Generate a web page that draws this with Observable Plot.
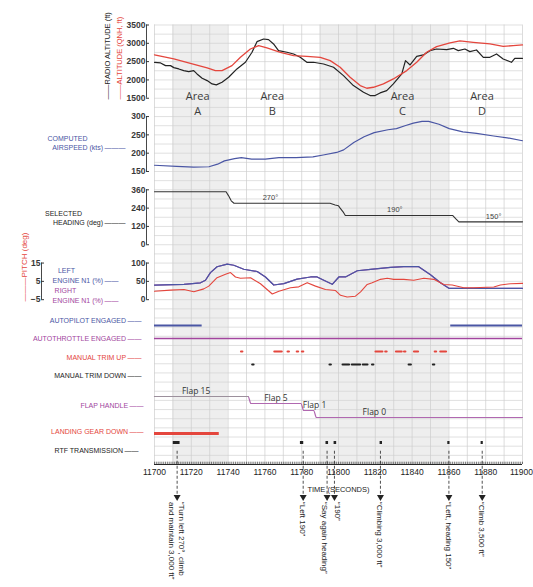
<!DOCTYPE html>
<html>
<head>
<meta charset="utf-8">
<script src="https://cdn.jsdelivr.net/npm/d3@7"></script>
<script src="https://cdn.jsdelivr.net/npm/@observablehq/plot@0.6"></script>
<style>
  body { margin: 0; background: #fff; }
  #chart { position: relative; width: 533px; height: 587px; overflow: hidden; }
</style>
</head>
<body>
<div id="chart"></div>
<script>
// ---------------- DATA ----------------
// Altitude (QNH, ft) – red
const qnhTime = [11700, 11710.5, 11719.5, 11728.6, 11733.1, 11736.7, 11742.1, 11746.7, 11752.1, 11756.6, 11761.1, 11768.4, 11775.6, 11782.8, 11790.1, 11795.5, 11800.9, 11806.3, 11811.8, 11815.4, 11819, 11824.4, 11829.8, 11837.1, 11842.5, 11847.9, 11853.3, 11860.6, 11866, 11873.2, 11882.3, 11889.5, 11894.9, 11900];
const qnhAlt  = [2682, 2573, 2455, 2327, 2255, 2255, 2390, 2618, 2845, 2936, 2873, 2755, 2664, 2645, 2618, 2527, 2345, 2073, 1845, 1773, 1800, 1891, 2027, 2255, 2482, 2755, 2909, 3009, 3064, 3027, 2982, 2918, 2936, 2955];
// Radio altitude (ft) – black
const radioTime = [11700, 11703.3, 11706, 11708.7, 11710.5, 11713.2, 11715.9, 11718.6, 11721.3, 11723.1, 11725.9, 11728.6, 11731.3, 11733.6, 11736.7, 11740.3, 11744.8, 11749.4, 11753, 11755.7, 11759.3, 11762, 11764.7, 11767.4, 11772, 11775.6, 11779.2, 11782.8, 11786.4, 11791.9, 11797.3, 11802.7, 11808.1, 11813.6, 11817.2, 11819.9, 11822.6, 11826.2, 11829.8, 11834.4, 11836.4, 11838.9, 11842.5, 11846.1, 11849.7, 11853.3, 11858.8, 11862.4, 11865.1, 11868.7, 11871.4, 11875, 11878.7, 11882.3, 11885.9, 11889.5, 11894, 11895.8, 11900];
const radioAlt  = [2482, 2464, 2391, 2391, 2336, 2300, 2255, 2227, 2255, 2164, 2045, 1982, 1891, 1864, 1936, 2073, 2300, 2482, 2755, 3045, 3118, 3100, 2982, 2800, 2755, 2709, 2618, 2482, 2482, 2436, 2345, 2118, 1845, 1664, 1573, 1573, 1645, 1709, 1891, 2164, 2527, 2409, 2645, 2682, 2800, 2845, 2827, 2864, 2800, 2845, 2773, 2818, 2618, 2618, 2709, 2573, 2482, 2591, 2591];
const areaNames = ["A", "B", "C", "D"];
const areaTime  = [11723.5, 11764, 11834.8, 11878];

// Computed airspeed (kts)
const iasTime = [11700, 11712, 11721.3, 11729.6, 11734.3, 11738, 11743.5, 11747.2, 11752.8, 11760.2, 11767.6, 11776.9, 11786.1, 11791.7, 11799, 11802.8, 11808.3, 11813.9, 11819.4, 11826.9, 11831.5, 11836.1, 11840.7, 11845.4, 11849, 11854.6, 11860.2, 11867.6, 11875, 11884.3, 11891.7, 11900];
const ias     = [167, 164, 162, 163, 170, 179, 185, 188, 184, 184, 188, 188, 190, 195, 202, 209, 229, 245, 256, 264, 267, 275, 282, 287, 287, 279, 267, 258, 254, 247, 242, 234];

// Selected heading (deg)
const hdgTime = [11700, 11738.9, 11740.2, 11741.7, 11743.2, 11795.4, 11798.2, 11800, 11800.9, 11802.8, 11803.7, 11862, 11863.8, 11865.4, 11900];
const hdg     = [347, 347, 322, 288, 272, 272, 261, 255, 240, 210, 192, 192, 169, 150, 150];
const hdgLabels = ["270°", "190°", "150°"];
const hdgLabelTime = [11763, 11830.6, 11884.3];
const hdgLabelValue = [272, 192, 150];

// Engine N1 (%)
const n1Time = [11700, 11716, 11725, 11727.7, 11730.4, 11734, 11739.5, 11743.1, 11748.5, 11755.8, 11760.3, 11764.8, 11770.3, 11777.5, 11784.8, 11788.4, 11792, 11796.6, 11800.2, 11803.8, 11810.2, 11817.4, 11828.3, 11835.5, 11843.6, 11850, 11855.4, 11860, 11879, 11900];
const leftN1  = [40, 42, 46, 53, 74, 90, 97, 94, 83, 77, 62, 40, 44, 56, 62, 62, 53, 42, 62, 62, 79, 83, 88, 90, 90, 68, 46, 31, 31, 31];
const rightN1 = [40, 42, 46, 53, 74, 90, 97, 94, 83, 77, 62, 40, 44, 56, 62, 62, 53, 42, 62, 62, 79, 83, 88, 90, 90, 68, 46, 31, 31, 31];

// Pitch (deg)
const pitchTime = [11700, 11708.7, 11716, 11721.4, 11726.8, 11729.5, 11734, 11738.6, 11741.3, 11744, 11746.7, 11752.2, 11757.6, 11764, 11767.6, 11773.9, 11778.4, 11783, 11787.5, 11792.9, 11798.4, 11801.1, 11804.7, 11809.2, 11812, 11815.6, 11818.3, 11822.8, 11826.5, 11830, 11835.5, 11840.9, 11846.4, 11851.8, 11857.2, 11861.8, 11868.1, 11873.5, 11884.4, 11888, 11893.5, 11900];
const pitch     = [-0.4, 0.2, 0.6, -0.7, 0.9, 2.4, 7, 8.9, 9.8, 7.4, 6.7, 7, 3.7, -1.9, -0.4, 1.5, 2, 4.3, 2.4, 0.6, 0, -2.6, -3.5, -3.1, -0.7, 3.3, 4.3, 6.1, 6.7, 6.1, 6.1, 5.6, 6.7, 6.1, 3.3, 3, 1.5, 1.5, 1.9, 3, 3.7, 3.9];

// Discrete parameters (start / end times)
const apStart = [11700, 11861], apEnd = [11725.9, 11900];
const atStart = [11700], atEnd = [11900];
const trimUpStart = [11747.3, 11765.4, 11772.6, 11777.6, 11780.4, 11820.4, 11825.7, 11831.5, 11835.9, 11841.3, 11852.6, 11855.6];
const trimUpEnd   = [11748.0, 11769.4, 11773.3, 11778.3, 11781.1, 11824.1, 11826.4, 11834.6, 11836.6, 11843.5, 11853.3, 11858.7];
const trimDownStart = [11753.4, 11795.4, 11802.5, 11807.5, 11813.5, 11818.5, 11838.4, 11851.6];
const trimDownEnd   = [11754.1, 11796.1, 11806.0, 11812.0, 11816.0, 11819.2, 11839.6, 11852.3];
const gearStart = [11700], gearEnd = [11735.2];
const rtfStart = [11710.2, 11779.3, 11793.2, 11797.6, 11822.6, 11859.4, 11877.5];
const rtfEnd   = [11713.9, 11781.1, 11794.6, 11799.0, 11823.9, 11860.6, 11878.7];

// Flap handle
const flapLevels = ["Flap 15", "Flap 5", "Flap 1", "Flap 0"];
const flapTime  = [11700, 11750.9, 11752.4, 11779.6, 11781.1, 11785.2, 11786.5, 11788, 11900];
const flapValue = ["Flap 15", "Flap 15", "Flap 5", "Flap 5", "Flap 1", "Flap 1", "Flap 1", "Flap 0", "Flap 0"];
const flapLabelTime = [11722.6, 11766, 11787, 11819.5];

// Shaded areas
const shadeStart = [11710, 11790], shadeEnd = [11740, 11860];

// X axis ticks
const xTicks = [11700, 11720, 11740, 11760, 11780, 11800, 11820, 11840, 11860, 11880, 11900];

// RTF transcript annotations
const annTime = [11712.3, 11780.8, 11793.8, 11797.8, 11822.8, 11860, 11878.1];
const annText = ["\u201CTurn left 270°, climb\nand maintain 3,000 ft\u201D", "\u201CLeft 190\u201D", "\u201CSay again heading\u201D", "\u201C190\u201D", "\u201CClimbing 3,000 ft\u201D", "\u201CLeft, heading 150\u201D", "\u201CClimb 3,500 ft\u201D"];

// ---------------- LAYOUT / STYLE ----------------
const X0 = 11700, X1 = 11900;
const G_TOP = 24.5, G_STEP = 9.156;
const py = i => G_TOP + i * G_STEP;
const FONT = "'Liberation Sans', Arial, Helvetica, sans-serif";
const RED = "#e4463d", BLUE = "#4a56a4", PURPLE = "#a2469e", BLACK = "#232323";
const chart = document.getElementById("chart");

const zip = (t, v) => t.map((d, i) => ({t: d, v: v[i]}));
const segs = (s, e, row) => s.map((d, i) => ({s: d, e: e[i], row}));

function add(opts) {
  const svg = Plot.plot({
    width: 533, height: 587,
    marginLeft: 154, marginRight: 11, marginTop: 0, marginBottom: 0,
    style: {background: "transparent", overflow: "visible", fontFamily: FONT, position: "absolute", left: "0px", top: "0px"},
    ...opts,
    x: {domain: [X0, X1], axis: null, ...(opts.x || {})}
  });
  chart.append(svg);
}

function yAxis(ticks, dx = -8) {
  return [
    Plot.axisY({ticks, tickSize: -3, tickPadding: 4, dx, fontSize: 8.5, fontWeight: "bold", color: "#383838", label: null,
      tickFormat: d => String(d).replace("-", "\u2212")}),
    Plot.ruleX([X0], {y1: ticks[0], y2: ticks[ticks.length - 1], dx, stroke: "#333", strokeWidth: 0.9})
  ];
}

// ---------- Background: shading, grid, x axis, annotations ----------
add({
  marginTop: py(0), marginBottom: 587 - py(48),
  y: {domain: [0, 48], range: [py(0), py(48)], axis: null},
  marks: [
    Plot.rect(shadeStart, {x1: d => d, x2: (d, i) => shadeEnd[i], fill: "#eeeeee"}),
    Plot.ruleY(d3.range(0, 49), {stroke: "#d3d3d3", strokeWidth: 0.7}),
    Plot.ruleX(d3.range(X0, X1 + 1, 10), {stroke: "#cdcdcd", strokeWidth: 0.7}),
    Plot.ruleY([48], {stroke: BLACK, strokeWidth: 1}),
    Plot.ruleX(d3.range(X0, X1 + 1, 1), {y1: 47.75, y2: 48, stroke: BLACK, strokeWidth: 0.6}),
    Plot.text(xTicks, {filter: d => d < X1, x: d => d, y: 48, dy: 8, text: d => String(d), fontSize: 8.5, fill: "#222"}),
    Plot.text(xTicks, {filter: d => d === X1, x: d => d, y: 48, dy: 8, dx: 10.5, textAnchor: "end", text: d => String(d), fontSize: 8.5, fill: "#222"}),
    Plot.link(annTime, {x1: d => d, x2: d => d, y1: 46.5, y2: 51.2, stroke: BLACK, strokeWidth: 0.8, strokeDasharray: "3,2"}),
    Plot.dot(annTime, {x: d => d, y: 51.55, symbol: "triangle", r: 2.6, fill: BLACK, stroke: "none", rotate: 180}),
    Plot.text(annTime, {filter: (d, i) => i !== 2 && i !== 3, x: d => d, y: 52.1, text: (d, i) => annText[i], rotate: 90, textAnchor: "start", lineAnchor: "middle", lineHeight: 1.3, fontSize: 8, fill: BLACK}),
    Plot.text(annTime, {filter: (d, i) => i === 2, x: d => d, y: 52.1, dx: -3, text: (d, i) => annText[i], rotate: 90, textAnchor: "start", lineAnchor: "middle", fontSize: 8, fill: BLACK}),
    Plot.text(annTime, {filter: (d, i) => i === 3, x: d => d, y: 52.1, dx: 3, text: (d, i) => annText[i], rotate: 90, textAnchor: "start", lineAnchor: "middle", fontSize: 8, fill: BLACK})
  ]
});

// ---------- Altitude panel ----------
add({
  y: {domain: [1500, 3500], range: [py(8), py(0)]},
  marks: [
    ...yAxis([1500, 2000, 2500, 3000, 3500]),
    Plot.line(zip(radioTime, radioAlt), {x: "t", y: "v", stroke: BLACK, strokeWidth: 1.2}),
    Plot.line(zip(qnhTime, qnhAlt), {x: "t", y: "v", stroke: RED, strokeWidth: 1.3}),
    Plot.text(areaNames, {x: (d, i) => areaTime[i], y: 1500, text: d => "Area\n" + d, lineAnchor: "top", dy: -9.5, lineHeight: 1.4, fontSize: 11, fontFamily: "'Open Sans', sans-serif", fill: "#3c3c3c"})
  ]
});

// ---------- Airspeed panel ----------
add({
  y: {domain: [150, 300], range: [py(16), py(10)]},
  marks: [
    ...yAxis([150, 200, 250, 300]),
    Plot.line(zip(iasTime, ias), {x: "t", y: "v", stroke: BLUE, strokeWidth: 1.2})
  ]
});

// ---------- Heading panel ----------
add({
  y: {domain: [0, 360], range: [py(24), py(18)]},
  marks: [
    ...yAxis([0, 120, 240, 360]),
    Plot.line(zip(hdgTime, hdg), {x: "t", y: "v", stroke: "#333", strokeWidth: 1.1}),
    Plot.text(hdgLabels, {x: (d, i) => hdgLabelTime[i], y: (d, i) => hdgLabelValue[i], dy: -5.5, text: d => d, fontSize: 7.5, fill: "#444"})
  ]
});

// ---------- Engine N1 panel ----------
add({
  y: {domain: [0, 100], range: [py(30), py(26)]},
  marks: [
    ...yAxis([0, 50, 100]),
    Plot.line(zip(n1Time, rightN1), {x: "t", y: "v", stroke: PURPLE, strokeWidth: 1.2}),
    Plot.line(zip(n1Time, leftN1), {x: "t", y: "v", stroke: BLUE, strokeWidth: 1.2})
  ]
});

// ---------- Pitch (own scale, axis at far left) ----------
add({
  y: {domain: [-5, 15], range: [py(30), py(26)]},
  marks: [
    ...yAxis([-5, 5, 15], -113),
    Plot.line(zip(pitchTime, pitch), {x: "t", y: "v", stroke: RED, strokeWidth: 1.1})
  ]
});

// ---------- Discrete rows (top group) ----------
const rowsTop = ["AUTOPILOT ENGAGED", "AUTOTHROTTLE ENGAGED", "MANUAL TRIM UP", "MANUAL TRIM DOWN"];
add({
  y: {type: "point", domain: rowsTop, range: [py(32), py(38)], axis: null},
  marks: [
    Plot.ruleY(segs(apStart, apEnd, rowsTop[0]), {y: "row", x1: "s", x2: "e", stroke: BLUE, strokeWidth: 2.2}),
    Plot.ruleY(segs(atStart, atEnd, rowsTop[1]), {y: "row", x1: "s", x2: "e", stroke: PURPLE, strokeWidth: 1.6}),
    Plot.ruleY(segs(trimUpStart, trimUpEnd, rowsTop[2]), {y: "row", x1: "s", x2: "e", stroke: RED, strokeWidth: 2.2, strokeLinecap: "round"}),
    Plot.ruleY(segs(trimDownStart, trimDownEnd, rowsTop[3]), {y: "row", x1: "s", x2: "e", stroke: BLACK, strokeWidth: 2.2, strokeLinecap: "round"})
  ]
});

// ---------- Flap handle ----------
add({
  y: {type: "point", domain: flapLevels, range: [py(40) + 1.3, py(43) + 2.3], axis: null},
  marks: [
    Plot.line(zip(flapTime, flapValue), {x: "t", y: "v", stroke: "#b068b0", strokeWidth: 1.2, curve: "monotone-x"}),
    Plot.line(zip(flapTime, flapValue), {filter: (d, i) => i < 2, x: "t", y: "v", stroke: "#9c909c", strokeWidth: 1.2}),
    Plot.text(flapLevels, {x: (d, i) => flapLabelTime[i], y: d => d, dy: -5.5, text: d => d, fontSize: 8.5, fontFamily: "'Open Sans', sans-serif", fill: "#333"})
  ]
});

// ---------- Discrete rows (bottom group) ----------
const rowsBottom = ["LANDING GEAR DOWN", "RTF TRANSMISSION"];
add({
  y: {type: "point", domain: rowsBottom, range: [py(44) + 1, py(46) + 1.5], axis: null},
  marks: [
    Plot.ruleY(segs(gearStart, gearEnd, rowsBottom[0]), {y: "row", x1: "s", x2: "e", stroke: RED, strokeWidth: 3}),
    Plot.ruleY(segs(rtfStart, rtfEnd, rowsBottom[1]), {y: "row", x1: "s", x2: "e", stroke: BLACK, strokeWidth: 3})
  ]
});

// ---------- Left-hand labels ----------
const T = (text, x, y, o = {}) => Plot.text([text], {frameAnchor: "top-left", dx: x, dy: y, text: d => d, fontSize: 7, textAnchor: "end", fill: BLACK, ...o});
const D2 = "\u2009\u2014\u2014", D3 = "\u2009\u2014\u2014\u2014";
chart.append(Plot.plot({
  width: 533, height: 587, margin: 0,
  style: {background: "transparent", overflow: "visible", fontFamily: FONT, position: "absolute", left: "0px", top: "0px"},
  marks: [
    T("\u2014\u2014RADIO ALTITUDE (ft)", 104, 99, {rotate: -90, textAnchor: "start", fontSize: 7.5}),
    T("\u2014\u2014ALTITUDE (QNH, ft)", 116, 99, {rotate: -90, textAnchor: "start", fontSize: 7.5, fill: RED}),
    T("COMPUTED", 67, 136, {textAnchor: "middle", fill: BLUE}),
    T("AIRSPEED (kts)" + D3, 125, 144.5, {fill: BLUE}),
    T("SELECTED", 63, 211, {textAnchor: "middle"}),
    T("HEADING (deg)" + D3, 125, 219.5),
    T("\u2014\u2014\u2014PITCH (deg)", 21, 301, {rotate: -90, textAnchor: "start", fontSize: 8, fill: RED}),
    T("LEFT", 66, 268, {textAnchor: "middle", fill: BLUE}),
    T("ENGINE N1 (%)" + D2, 118, 277.5, {fill: BLUE}),
    T("RIGHT", 65, 288, {textAnchor: "middle", fill: PURPLE}),
    T("ENGINE N1 (%)" + D2, 118, 297.5, {fill: PURPLE}),
    T(rowsTop[0] + D2, 141, py(32), {fill: BLUE}),
    T(rowsTop[1] + D2, 141, py(34), {fill: PURPLE}),
    T(rowsTop[2] + D2, 141, py(36), {fill: RED}),
    T(rowsTop[3] + D2, 141, py(38)),
    T("FLAP HANDLE" + D2, 143, 403, {fill: PURPLE}),
    T(rowsBottom[0] + D2, 143, py(44) + 1, {fill: RED}),
    T(rowsBottom[1] + D2, 138, py(46) + 1.5),
    T("TIME (SECONDS)", 338, 486, {textAnchor: "middle", fontSize: 7.5})
  ]
}));
</script>
</body>
</html>
